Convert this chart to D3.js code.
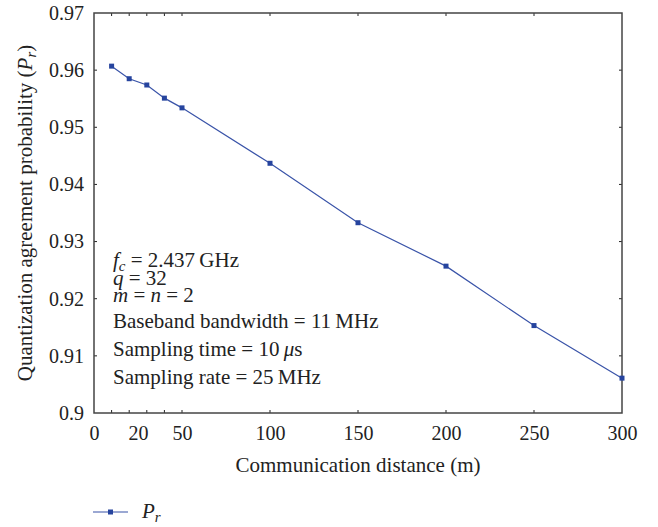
<!DOCTYPE html>
<html>
<head>
<meta charset="utf-8">
<script src="https://cdn.jsdelivr.net/npm/d3@7"></script>
<style>
  body { margin: 0; background: #fff; }
  text { font-family: "Liberation Serif", "DejaVu Serif", serif; fill: #222; }
</style>
</head>
<body>
<main></main>
<script>
// chart data
var distances = [10, 20, 30, 40, 50, 100, 150, 200, 250, 300];
var agreement = [0.9607, 0.9585, 0.9574, 0.9551, 0.9534, 0.9437, 0.9333, 0.9257, 0.9153, 0.9061];

var xTickValues = [0, 25, 50, 100, 150, 200, 250, 300];
var xTickLabels = ["0", "20", "50", "100", "150", "200", "250", "300"];
var xMinorTicks = [10, 20, 30, 40, 50, 100, 150, 200, 250];
var yTickValues = [0.9, 0.91, 0.92, 0.93, 0.94, 0.95, 0.96, 0.97];
var yTickLabels = ["0.9", "0.91", "0.92", "0.93", "0.94", "0.95", "0.96", "0.97"];

var notes = ["= 2.437\u2009GHz", "= 32", "= n = 2", "Baseband bandwidth = 11\u2009MHz", "Sampling time = 10\u2009", "Sampling rate = 25\u2009MHz"];

var width = 658, height = 527;
var margin = { top: 13, right: 36, bottom: 114, left: 94 };

var svg = d3.select("main").append("svg")
  .attr("width", width)
  .attr("height", height);

var x = d3.scaleLinear().domain([0, 300]).range([margin.left, width - margin.right]);
var y = d3.scaleLinear().domain([0.9, 0.97]).range([height - margin.bottom, margin.top]);

var frameColor = "#444";
var fs = "20px";

// tick labels
var xAxis = d3.axisBottom(x).tickValues(xTickValues)
  .tickFormat(function(d, i) { return xTickLabels[i]; })
  .tickSize(0).tickPadding(13);
svg.append("g")
  .attr("transform", "translate(0," + y(0.9) + ")")
  .call(xAxis)
  .call(function(g) { g.select(".domain").remove(); })
  .selectAll("text").style("font-size", fs).style("font-family", "Liberation Serif").attr("fill", "#222");

var yAxis = d3.axisLeft(y).tickValues(yTickValues)
  .tickFormat(function(d, i) { return yTickLabels[i]; })
  .tickSize(0).tickPadding(10);
svg.append("g")
  .attr("transform", "translate(" + x(0) + ",0)")
  .call(yAxis)
  .call(function(g) { g.select(".domain").remove(); })
  .selectAll("text").style("font-size", fs).style("font-family", "Liberation Serif").attr("fill", "#222");

// inside ticks
var tickLen = 3;
svg.append("g").selectAll("line.xb")
  .data(xMinorTicks).enter().append("line")
  .attr("x1", d => x(d)).attr("x2", d => x(d))
  .attr("y1", y(0.9)).attr("y2", y(0.9) - tickLen)
  .attr("stroke", "#222").attr("stroke-width", 1);
svg.append("g").selectAll("line.xt")
  .data(xMinorTicks).enter().append("line")
  .attr("x1", d => x(d)).attr("x2", d => x(d))
  .attr("y1", y(0.97)).attr("y2", y(0.97) + tickLen)
  .attr("stroke", "#222").attr("stroke-width", 1);
var yInner = yTickValues.slice(1, -1);
svg.append("g").selectAll("line.yl")
  .data(yInner).enter().append("line")
  .attr("x1", x(0)).attr("x2", x(0) + tickLen)
  .attr("y1", d => y(d)).attr("y2", d => y(d))
  .attr("stroke", "#222").attr("stroke-width", 1);
svg.append("g").selectAll("line.yr")
  .data(yInner).enter().append("line")
  .attr("x1", x(300)).attr("x2", x(300) - tickLen)
  .attr("y1", d => y(d)).attr("y2", d => y(d))
  .attr("stroke", "#222").attr("stroke-width", 1);

// frame
svg.append("rect")
  .attr("x", x(0)).attr("y", y(0.97))
  .attr("width", x(300) - x(0)).attr("height", y(0.9) - y(0.97))
  .attr("fill", "none").attr("stroke", frameColor).attr("stroke-width", 1.5);

// series
var data = distances.map(function(d, i) { return { d: d, p: agreement[i] }; });
var lineColor = "#3953a8";

svg.append("path")
  .datum(data)
  .attr("fill", "none")
  .attr("stroke", lineColor)
  .attr("stroke-width", 1.2)
  .attr("d", d3.line().x(d => x(d.d)).y(d => y(d.p)));

svg.selectAll(".mark")
  .data(data).enter().append("rect")
  .attr("class", "mark")
  .attr("x", d => x(d.d) - 2.5).attr("y", d => y(d.p) - 2.5)
  .attr("width", 5).attr("height", 5)
  .attr("fill", "#26449e");

// axis titles
svg.append("text")
  .attr("x", (x(0) + x(300)) / 2).attr("y", 472)
  .attr("text-anchor", "middle")
  .style("font-size", "21px")
  .text("Communication distance (m)");

var yt = svg.append("text")
  .attr("transform", "translate(32," + ((y(0.9) + y(0.97)) / 2) + ") rotate(-90)")
  .attr("text-anchor", "middle")
  .style("font-size", "21px");
yt.append("tspan").text("Quantization agreement probability (");
yt.append("tspan").style("font-style", "italic").text("P");
yt.append("tspan").style("font-style", "italic").style("font-size", "15px").attr("dy", 4).text("r");
yt.append("tspan").attr("dy", -4).text(")");

// annotations
var nx = 113, nfs = "21px";
var t0 = svg.append("text").attr("x", nx).attr("y", 267).style("font-size", nfs);
t0.append("tspan").style("font-style", "italic").text("f");
t0.append("tspan").style("font-style", "italic").style("font-size", "15px").attr("dy", 4).text("c");
t0.append("tspan").attr("dy", -4).text(" " + notes[0]);

var t1 = svg.append("text").attr("x", nx).attr("y", 285).style("font-size", nfs);
t1.append("tspan").style("font-style", "italic").text("q");
t1.append("tspan").text(" " + notes[1]);

var t2 = svg.append("text").attr("x", nx).attr("y", 302).style("font-size", nfs);
t2.append("tspan").style("font-style", "italic").text("m");
t2.append("tspan").text(" = ");
t2.append("tspan").style("font-style", "italic").text("n");
t2.append("tspan").text(" = 2");

svg.append("text").attr("x", nx).attr("y", 328).style("font-size", nfs).text(notes[3]);

var t4 = svg.append("text").attr("x", nx).attr("y", 356).style("font-size", nfs);
t4.append("tspan").text(notes[4]);
t4.append("tspan").style("font-style", "italic").text("\u03bc");
t4.append("tspan").text("s");

svg.append("text").attr("x", nx).attr("y", 384).style("font-size", nfs).text(notes[5]);

// legend
var ly = 512;
svg.append("line")
  .attr("x1", 93).attr("x2", 128).attr("y1", ly).attr("y2", ly)
  .attr("stroke", lineColor).attr("stroke-width", 1.2);
svg.append("rect")
  .attr("x", 108).attr("y", ly - 2.5).attr("width", 5).attr("height", 5)
  .attr("fill", "#26449e");
var lt = svg.append("text").attr("x", 142).attr("y", ly + 6).style("font-size", "21px");
lt.append("tspan").style("font-style", "italic").text("P");
lt.append("tspan").style("font-style", "italic").style("font-size", "15px").attr("dy", 4).text("r");
</script>
</body>
</html>
